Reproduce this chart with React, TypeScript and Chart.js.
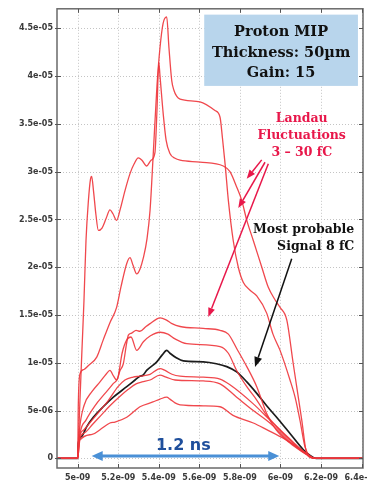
import React, { useEffect, useRef } from "react";
import { Chart, registerables } from "chart.js";

Chart.register(...registerables);

// x: time in ns (axis labels in seconds), y: signal in units of 1e-5
const xTickLabels = ["5e-09", "5.2e-09", "5.4e-09", "5.6e-09", "5.8e-09", "6e-09", "6.2e-09", "6.4e-09"];
const yTickLabels = ["0", "5e-06", "1e-05", "1.5e-05", "2e-05", "2.5e-05", "3e-05", "3.5e-05", "4e-05", "4.5e-05"];
const X_MIN = 4.898, X_MAX = 6.407, X_STEP = 0.2, X_FIRST = 5;
const Y_MIN = -0.101, Y_MAX = 4.705, Y_STEP = 0.5;

type P = [number, number];

const curveA: P[] = [
  [4.85, 0], [5.0, 0], [5.004, 0.19], [5.011, 0.6], [5.021, 1.13], [5.031, 1.65], [5.041, 2.28], [5.053, 2.7],
  [5.063, 2.92], [5.069, 2.95], [5.078, 2.8], [5.09, 2.55], [5.102, 2.385], [5.12, 2.41], [5.14, 2.51],
  [5.159, 2.6], [5.174, 2.56], [5.192, 2.49], [5.209, 2.6], [5.233, 2.8], [5.258, 2.98], [5.278, 3.08],
  [5.299, 3.145], [5.317, 3.12], [5.34, 3.06], [5.362, 3.12], [5.381, 3.2], [5.391, 3.64], [5.4, 4.145],
  [5.406, 4.0], [5.422, 3.6], [5.436, 3.33], [5.455, 3.19], [5.48, 3.14], [5.505, 3.12], [5.603, 3.1],
  [5.718, 3.06], [5.751, 3.0], [5.784, 2.84], [5.809, 2.7], [5.834, 2.49], [5.866, 2.28], [5.908, 2.0],
  [5.94, 1.79], [5.973, 1.66], [5.998, 1.58], [6.031, 1.45], [6.063, 0.99], [6.08, 0.75], [6.105, 0.4],
  [6.129, 0.05], [6.146, 0.01], [6.166, 0], [6.45, 0],
];

const curveB: P[] = [
  [4.85, 0], [5.0, 0], [5.003, 0.55], [5.011, 0.88], [5.031, 0.93], [5.052, 0.97], [5.094, 1.06], [5.126, 1.24],
  [5.159, 1.42], [5.192, 1.58], [5.214, 1.8], [5.242, 2.04], [5.258, 2.1], [5.273, 2.02], [5.291, 1.93],
  [5.307, 1.98], [5.324, 2.1], [5.342, 2.3], [5.357, 2.6], [5.373, 3.2], [5.391, 3.9], [5.406, 4.3],
  [5.421, 4.55], [5.439, 4.62], [5.45, 4.3], [5.464, 3.95], [5.475, 3.85], [5.488, 3.79], [5.505, 3.76],
  [5.603, 3.73], [5.677, 3.64], [5.702, 3.57], [5.714, 3.35], [5.727, 3.08], [5.743, 2.7], [5.767, 2.28],
  [5.792, 2.0], [5.817, 1.84], [5.85, 1.76], [5.883, 1.7], [5.932, 1.52], [5.963, 1.3], [5.998, 1.13],
  [6.047, 0.82], [6.072, 0.64], [6.096, 0.4], [6.121, 0.12], [6.146, 0.02], [6.166, 0], [6.45, 0],
];

const curveC: P[] = [
  [4.85, 0], [5.0, 0], [5.009, 0.3], [5.031, 0.55], [5.071, 0.7], [5.11, 0.8], [5.14, 0.88], [5.159, 0.92],
  [5.177, 0.86], [5.192, 0.82], [5.209, 0.92], [5.225, 0.99], [5.241, 1.2], [5.25, 1.29], [5.266, 1.31],
  [5.288, 1.34], [5.307, 1.33], [5.337, 1.38], [5.357, 1.41], [5.391, 1.46], [5.406, 1.47], [5.436, 1.45],
  [5.465, 1.41], [5.505, 1.38], [5.619, 1.36], [5.702, 1.34], [5.743, 1.3], [5.784, 1.15], [5.834, 0.96],
  [5.883, 0.75], [5.932, 0.47], [5.978, 0.3], [6.047, 0.16], [6.106, 0.07], [6.146, 0.02], [6.166, 0], [6.45, 0],
];

const curveD: P[] = [
  [4.85, 0], [5.0, 0], [5.011, 0.25], [5.041, 0.4], [5.085, 0.55], [5.135, 0.68], [5.174, 0.78], [5.199, 0.85],
  [5.219, 1.1], [5.242, 1.24], [5.263, 1.27], [5.291, 1.13], [5.324, 1.22], [5.357, 1.28], [5.406, 1.32],
  [5.445, 1.3], [5.48, 1.25], [5.538, 1.2], [5.702, 1.17], [5.743, 1.1], [5.784, 0.92], [5.834, 0.75],
  [5.883, 0.61], [5.932, 0.45], [5.998, 0.3], [6.058, 0.18], [6.106, 0.08], [6.146, 0.02], [6.166, 0], [6.45, 0],
];

const curveF1: P[] = [
  [4.85, 0], [5.0, 0], [5.006, 0.2], [5.031, 0.3], [5.071, 0.4], [5.11, 0.5], [5.149, 0.6], [5.199, 0.75],
  [5.233, 0.82], [5.273, 0.85], [5.307, 0.86], [5.357, 0.88], [5.406, 0.94], [5.431, 0.92], [5.465, 0.88],
  [5.505, 0.86], [5.619, 0.85], [5.702, 0.83], [5.751, 0.77], [5.866, 0.57], [5.948, 0.4], [6.047, 0.19],
  [6.121, 0.06], [6.156, 0.01], [6.17, 0], [6.45, 0],
];

const curveF2: P[] = [
  [4.85, 0], [5.0, 0], [5.006, 0.18], [5.036, 0.27], [5.075, 0.36], [5.115, 0.45], [5.159, 0.55], [5.209, 0.65],
  [5.248, 0.72], [5.288, 0.78], [5.317, 0.8], [5.357, 0.82], [5.406, 0.87], [5.436, 0.85], [5.48, 0.82],
  [5.619, 0.81], [5.702, 0.78], [5.784, 0.64], [5.866, 0.5], [5.948, 0.37], [6.047, 0.17], [6.121, 0.05],
  [6.156, 0.01], [6.17, 0], [6.45, 0],
];

const curveG: P[] = [
  [4.85, 0], [5.0, 0], [5.011, 0.19], [5.071, 0.25], [5.11, 0.3], [5.159, 0.37], [5.184, 0.38], [5.242, 0.43],
  [5.283, 0.5], [5.307, 0.54], [5.371, 0.59], [5.406, 0.62], [5.439, 0.64], [5.455, 0.62], [5.48, 0.58],
  [5.505, 0.56], [5.619, 0.55], [5.702, 0.54], [5.766, 0.45], [5.866, 0.37], [5.932, 0.3], [6.022, 0.2],
  [6.096, 0.1], [6.146, 0.02], [6.166, 0], [6.45, 0],
];

// most probable signal (black)
const curveMP: P[] = [
  [4.85, 0], [5.0, 0], [5.003, 0.16], [5.02, 0.23], [5.044, 0.33], [5.077, 0.43], [5.126, 0.54], [5.176, 0.64],
  [5.242, 0.75], [5.283, 0.82], [5.307, 0.86], [5.322, 0.87], [5.34, 0.92], [5.39, 1.01], [5.416, 1.08],
  [5.439, 1.13], [5.455, 1.1], [5.488, 1.05], [5.521, 1.02], [5.619, 1.01], [5.684, 0.99], [5.735, 0.96],
  [5.784, 0.905], [5.834, 0.8], [5.883, 0.68], [5.932, 0.55], [5.981, 0.43], [6.047, 0.26], [6.113, 0.09],
  [6.146, 0.03], [6.175, 0], [6.45, 0],
];

const redCurves = [curveA, curveB, curveC, curveD, curveF1, curveF2, curveG];

// annotations (data coordinates)
const boxLines = ["Proton MIP", "Thickness: 50µm", "Gain: 15"];
const boxRect = { x1: 5.624, x2: 6.382, y1: 4.644, y2: 3.898 };
const boxTextX = 6.003;
const boxTextY = [4.42, 4.201, 3.992];
const landauLines = ["Landau", "Fluctuations", "3 – 30 fC"];
const landauX = 6.105;
const landauY = [3.524, 3.342, 3.164];
const mpLines = ["Most probable", "Signal 8 fC"];
const mpX = 6.364;
const mpY = [2.354, 2.177];
const redArrows = [
  { x1: 5.9075, y1: 3.124, x2: 5.8335, y2: 2.926 },
  { x1: 5.9238, y1: 3.099, x2: 5.7921, y2: 2.619 },
  { x1: 5.9401, y1: 3.083, x2: 5.6441, y2: 1.48 },
];
const blackArrow = { x1: 6.0555, y1: 2.09, x2: 5.8745, y2: 0.957 };
const widthArrow = { x1: 5.069, x2: 5.994, y: 0.024 };
const widthLabel = "1.2 ns";
const widthLabelPos = { x: 5.521, y: 0.087 };

function arrowHead(ctx: CanvasRenderingContext2D, x1: number, y1: number, x2: number, y2: number, len: number, half: number) {
  const a = Math.atan2(y2 - y1, x2 - x1);
  const bx = x2 - Math.cos(a) * len;
  const by = y2 - Math.sin(a) * len;
  ctx.beginPath();
  ctx.moveTo(x2, y2);
  ctx.lineTo(bx - Math.sin(a) * half, by + Math.cos(a) * half);
  ctx.lineTo(bx + Math.sin(a) * half, by - Math.cos(a) * half);
  ctx.closePath();
  ctx.fill();
  return [bx, by];
}

function drawArrow(ctx: CanvasRenderingContext2D, x1: number, y1: number, x2: number, y2: number, color: string, w: number, len: number, half: number) {
  ctx.save();
  ctx.strokeStyle = color;
  ctx.fillStyle = color;
  ctx.lineWidth = w;
  const [bx, by] = arrowHead(ctx, x1, y1, x2, y2, len, half);
  ctx.beginPath();
  ctx.moveTo(x1, y1);
  ctx.lineTo(bx, by);
  ctx.stroke();
  ctx.restore();
}

const decorPlugin = {
  id: "decor",
  beforeDatasetsDraw(chart: any) {
    const { ctx, chartArea: a, scales } = chart;
    const xs = scales.x, ys = scales.y;
    ctx.save();
    ctx.strokeStyle = "#c4c4c4";
    ctx.lineWidth = 1;
    ctx.setLineDash([1, 2]);
    xs.ticks.forEach((t: any) => {
      const p = Math.round(xs.getPixelForValue(t.value)) + 0.5;
      ctx.beginPath(); ctx.moveTo(p, a.top); ctx.lineTo(p, a.bottom); ctx.stroke();
    });
    ys.ticks.forEach((t: any) => {
      const p = Math.round(ys.getPixelForValue(t.value)) + 0.5;
      ctx.beginPath(); ctx.moveTo(a.left, p); ctx.lineTo(a.right, p); ctx.stroke();
    });
    ctx.restore();
  },
  afterDatasetsDraw(chart: any) {
    const { ctx, chartArea: a, scales } = chart;
    const xs = scales.x, ys = scales.y;
    const X = (v: number) => xs.getPixelForValue(v);
    const Y = (v: number) => ys.getPixelForValue(v);

    // frame + inward ticks
    ctx.save();
    ctx.strokeStyle = "#6a6a6a";
    ctx.lineWidth = 1.5;
    ctx.strokeRect(a.left, a.top, a.right - a.left, a.bottom - a.top);
    ctx.lineWidth = 1;
    ctx.strokeStyle = "#555";
    const tl = 4;
    xs.ticks.forEach((t: any) => {
      const p = Math.round(X(t.value)) + 0.5;
      ctx.beginPath(); ctx.moveTo(p, a.bottom); ctx.lineTo(p, a.bottom - tl); ctx.stroke();
      ctx.beginPath(); ctx.moveTo(p, a.top); ctx.lineTo(p, a.top + tl); ctx.stroke();
    });
    ys.ticks.forEach((t: any) => {
      const p = Math.round(Y(t.value)) + 0.5;
      ctx.beginPath(); ctx.moveTo(a.left - 2, p); ctx.lineTo(a.left + tl, p); ctx.stroke();
      ctx.beginPath(); ctx.moveTo(a.right, p); ctx.lineTo(a.right - tl, p); ctx.stroke();
    });
    ctx.restore();

    // info box
    ctx.save();
    ctx.fillStyle = "#b8d5ec";
    const bx1 = X(boxRect.x1), bx2 = X(boxRect.x2), by1 = Y(boxRect.y1), by2 = Y(boxRect.y2);
    ctx.fillRect(bx1, by1, bx2 - bx1, by2 - by1);
    ctx.fillStyle = "#111";
    ctx.font = "bold 14.5px 'DejaVu Serif'";
    ctx.textAlign = "center";
    ctx.textBaseline = "alphabetic";
    boxLines.forEach((s, i) => ctx.fillText(s, X(boxTextX), Y(boxTextY[i])));

    // Landau text
    ctx.fillStyle = "#e8174a";
    ctx.font = "bold 12.5px 'DejaVu Serif'";
    landauLines.forEach((s, i) => ctx.fillText(s, X(landauX), Y(landauY[i])));

    // Most probable text
    ctx.fillStyle = "#111";
    ctx.textAlign = "right";
    mpLines.forEach((s, i) => ctx.fillText(s, X(mpX), Y(mpY[i])));
    ctx.restore();

    redArrows.forEach((r) => drawArrow(ctx, X(r.x1), Y(r.y1), X(r.x2), Y(r.y2), "#e8174a", 1.5, 9, 3.5));
    drawArrow(ctx, X(blackArrow.x1), Y(blackArrow.y1), X(blackArrow.x2), Y(blackArrow.y2), "#111", 1.5, 10, 4);

    // 1.2 ns double arrow
    ctx.save();
    const wx1 = X(widthArrow.x1), wx2 = X(widthArrow.x2), wy = Y(widthArrow.y);
    ctx.fillStyle = "#4a90d6";
    ctx.strokeStyle = "#4a90d6";
    ctx.lineWidth = 3;
    arrowHead(ctx, wx2, wy, wx1, wy, 11, 5);
    arrowHead(ctx, wx1, wy, wx2, wy, 11, 5);
    ctx.beginPath(); ctx.moveTo(wx1 + 10, wy); ctx.lineTo(wx2 - 10, wy); ctx.stroke();
    ctx.fillStyle = "#1f4f9c";
    ctx.font = "bold 16px 'DejaVu Sans'";
    ctx.textAlign = "center";
    ctx.fillText(widthLabel, X(widthLabelPos.x), Y(widthLabelPos.y));
    ctx.restore();
  },
};

export default function App() {
  const ref = useRef<HTMLCanvasElement | null>(null);
  useEffect(() => {
    if (!ref.current) return;
    const datasets: any[] = redCurves.map((c) => ({
      data: c.map(([x, y]) => ({ x, y })),
      borderColor: "rgba(238,52,58,0.9)",
      borderWidth: 1.3,
      pointRadius: 0,
      cubicInterpolationMode: "monotone",
      fill: false,
    }));
    datasets.push({
      data: curveMP.map(([x, y]) => ({ x, y })),
      borderColor: "#1c1c1c",
      borderWidth: 1.7,
      pointRadius: 0,
      cubicInterpolationMode: "monotone",
      fill: false,
    });
    const tickFont = { family: "'DejaVu Sans'", size: 8, weight: "bold" as const };
    const chart = new Chart(ref.current, {
      type: "line",
      data: { datasets },
      plugins: [decorPlugin],
      options: {
        animation: false,
        responsive: false,
        devicePixelRatio: 1,
        layout: { padding: { top: 8, right: 27, left: 0, bottom: 0 } },
        plugins: { legend: { display: false }, tooltip: { enabled: false } },
        scales: {
          x: {
            type: "linear",
            min: X_MIN,
            max: X_MAX,
            grid: { display: false, drawTicks: false },
            border: { display: false },
            ticks: {
              stepSize: X_STEP,
              includeBounds: false,
              autoSkip: false,
              maxRotation: 0,
              padding: 5,
              color: "#3a3a3a",
              font: tickFont,
              callback: (v: any) => xTickLabels[Math.round((Number(v) - X_FIRST) / X_STEP)] ?? "",
            },
            afterFit: (s: any) => { s.height = 14; },
          },
          y: {
            type: "linear",
            min: Y_MIN,
            max: Y_MAX,
            grid: { display: false, drawTicks: false },
            border: { display: false },
            ticks: {
              stepSize: Y_STEP,
              includeBounds: false,
              padding: 4,
              color: "#3a3a3a",
              font: tickFont,
              callback: (v: any) => yTickLabels[Math.round(Number(v) / Y_STEP)] ?? "",
            },
            afterFit: (s: any) => { s.width = 57; },
          },
        },
      },
    });
    return () => chart.destroy();
  }, []);
  return (
    <div style={{ position: "fixed", left: 0, top: 0, width: 367, height: 482, overflow: "hidden", background: "#fff" }}>
      <canvas ref={ref} width={390} height={482} style={{ display: "block" }} />
    </div>
  );
}
